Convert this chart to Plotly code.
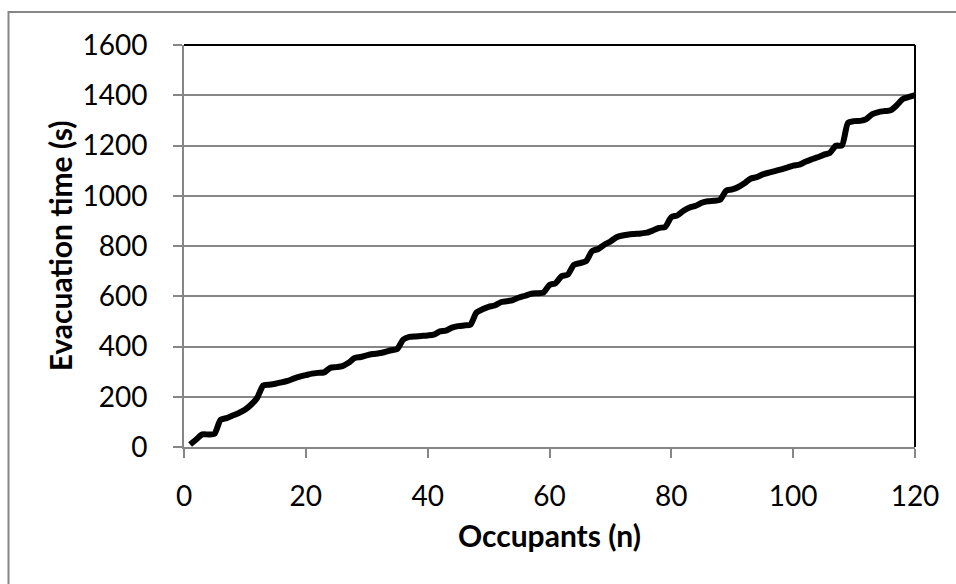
import plotly.graph_objects as go

occupants = list(range(1, 121))
evac_time = [
    10, 30, 50, 50, 52, 108, 115, 125, 135, 148,
    168, 195, 245, 248, 252, 257, 263, 272, 280, 286,
    292, 295, 297, 315, 318, 322, 335, 354, 358, 365,
    370, 373, 378, 385, 390, 428, 438, 440, 442, 444,
    447, 460, 463, 475, 481, 484, 486, 535, 548, 558,
    563, 576, 580, 585, 595, 602, 610, 612, 614, 645,
    652, 680, 686, 725, 732, 740, 780, 788, 805, 818,
    835, 842, 846, 848, 850, 853, 862, 872, 876, 915,
    922, 940, 953, 960, 972, 978, 980, 984, 1020, 1025,
    1035, 1050, 1068, 1074, 1085, 1092, 1098, 1105, 1112, 1120,
    1124, 1135, 1145, 1153, 1163, 1170, 1199, 1200, 1290, 1297,
    1298, 1305, 1325, 1333, 1337, 1340, 1360, 1385, 1393, 1400,
]
x_ticks = [0, 20, 40, 60, 80, 100, 120]
y_ticks = [0, 200, 400, 600, 800, 1000, 1200, 1400, 1600]

FONT = "Lato"
GRAY = "#868686"

fig = go.Figure()
fig.add_trace(go.Scatter(
    x=occupants, y=evac_time, mode="lines",
    line=dict(color="black", width=6, shape="spline", smoothing=0.6),
    showlegend=False, hoverinfo="skip",
))

W, H = 956, 584
L, R, T, B = 184, 41, 45, 137
pw = W - L - R
ph = H - T - B

fig.update_layout(
    width=W, height=H,
    margin=dict(l=L, r=R, t=T, b=B, pad=0),
    paper_bgcolor="white", plot_bgcolor="white",
    font=dict(family=FONT, size=28, color="black"),
    xaxis=dict(
        range=[0, 120], tickvals=x_ticks, ticktext=[str(v) for v in x_ticks],
        showgrid=False, zeroline=False,
        showline=True, linecolor=GRAY, linewidth=2,
        ticks="outside", ticklen=9, tickcolor=GRAY, tickwidth=2,
        ticklabelstandoff=14,
        tickfont=dict(family=FONT, size=28, color="black"),
        title=dict(text="<b>Occupants (n)</b>", standoff=15,
                   font=dict(family=FONT, size=30, color="black")),
    ),
    yaxis=dict(
        range=[0, 1600], tickvals=y_ticks, ticktext=[str(v) for v in y_ticks],
        showgrid=True, gridcolor=GRAY, gridwidth=1.5, zeroline=False,
        showline=True, linecolor=GRAY, linewidth=2,
        ticks="outside", ticklen=9, tickcolor=GRAY, tickwidth=2,
        ticklabelstandoff=20,
        tickfont=dict(family=FONT, size=28, color="black"),
        title=dict(text="<b>Evacuation time (s)</b>", standoff=1,
                   font=dict(family=FONT, size=30, color="black")),
    ),
)

# plot-area border (top and right, black)
fig.add_shape(type="line", xref="paper", yref="paper", x0=0, x1=1, y0=1, y1=1,
              line=dict(color="black", width=2))
fig.add_shape(type="line", xref="paper", yref="paper", x0=1, x1=1, y0=0, y1=1,
              line=dict(color="black", width=2))
# outer chart border (gray)
fig.add_shape(type="rect", xref="paper", yref="paper",
              x0=(8.5 - L) / pw, x1=(970 - L) / pw,
              y0=(H - B - 600) / ph, y1=(H - B - 12) / ph,
              line=dict(color=GRAY, width=2), fillcolor="rgba(0,0,0,0)", layer="below")

fig.write_html("out.html", config={"displayModeBar": False},
               post_script="document.body.style.margin='0';")
